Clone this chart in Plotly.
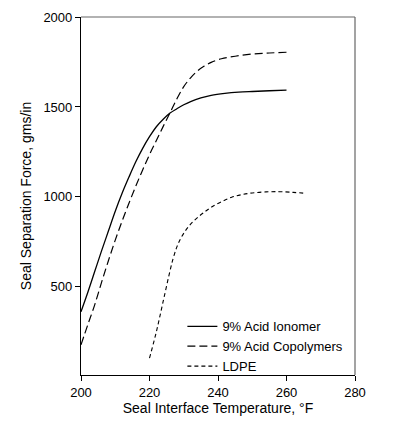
import plotly.graph_objects as go

# 9% acid ionomer (solid)
ionomer_t = [200, 202, 204, 206, 208, 210, 212, 214, 216, 218, 220, 222, 224, 226,
             228, 230, 232, 235, 238, 242, 246, 250, 255, 260]
ionomer_f = [362, 470, 585, 700, 810, 920, 1020, 1110, 1195, 1270, 1335, 1390, 1432, 1466,
             1490, 1512, 1530, 1550, 1564, 1575, 1582, 1586, 1590, 1593]

# 9% acid copolymers (long dash)
copoly_t = [200, 202, 204, 206, 208, 210, 212, 214, 216, 218, 220, 222, 224, 226,
            228, 230, 232, 234, 236, 238, 241, 245, 250, 255, 260]
copoly_f = [178, 290, 400, 525, 645, 760, 865, 965, 1060, 1150, 1235, 1313, 1392, 1468,
            1545, 1613, 1662, 1700, 1727, 1748, 1768, 1782, 1794, 1800, 1804]

# LDPE (short dash)
ldpe_t = [220, 222, 224, 226, 227, 228, 229, 230.5, 232, 234, 236, 238, 241,
          244, 247, 250, 254, 258, 262, 265.5]
ldpe_f = [104, 250, 420, 590, 664, 722, 765, 812, 848, 885, 915, 942, 973,
          998, 1013, 1022, 1028, 1029, 1025, 1020]

font = "Liberation Sans, Arial, sans-serif"

fig = go.Figure()
fig.add_trace(go.Scatter(x=ionomer_t, y=ionomer_f, mode="lines", name="9% Acid Ionomer",
                         line=dict(color="black", width=1.3, shape="spline")))
fig.add_trace(go.Scatter(x=copoly_t, y=copoly_f, mode="lines", name="9% Acid Copolymers",
                         line=dict(color="black", width=1.2, shape="spline", dash="8px,4px")))
fig.add_trace(go.Scatter(x=ldpe_t, y=ldpe_f, mode="lines", name="LDPE",
                         line=dict(color="black", width=1.1, shape="spline", dash="4px,3px")))

# top and right frame lines
fig.add_shape(type="line", xref="paper", yref="paper", x0=0, x1=1, y0=1, y1=1,
              line=dict(color="#666", width=1.2))
fig.add_shape(type="line", xref="paper", yref="paper", x0=1, x1=1, y0=0, y1=1,
              line=dict(color="#666", width=1.2))

# page body has an 8px margin, so the figure is a bit smaller than the window
fig.update_layout(
    width=393, height=415,
    margin=dict(l=73, r=46, t=9, b=48),
    paper_bgcolor="white", plot_bgcolor="white",
    font=dict(family=font, size=12, color="black"),
    showlegend=True,
    legend=dict(x=0.37, y=0.08, xanchor="left", yanchor="middle",
                bgcolor="rgba(0,0,0,0)", itemwidth=30, tracegroupgap=0,
                font=dict(size=13), itemclick=False),
    xaxis=dict(range=[200, 280], tickvals=[200, 220, 240, 260, 280], automargin=False,
               showgrid=False, zeroline=False, showline=True, linecolor="black", linewidth=1.2,
               ticks="outside", ticklen=5, tickcolor="black", tickfont=dict(size=13),
               title=dict(text="Seal Interface Temperature, °F", standoff=4)),
    yaxis=dict(range=[10, 2000], tickvals=[500, 1000, 1500, 2000], automargin=False,
               showgrid=False, zeroline=False, showline=True, linecolor="black", linewidth=1.2,
               ticks="outside", ticklen=5, tickcolor="black", tickfont=dict(size=13),
               title=dict(text="Seal Separation Force, gms/in", standoff=8)),
)

fig.write_html("out.html")
